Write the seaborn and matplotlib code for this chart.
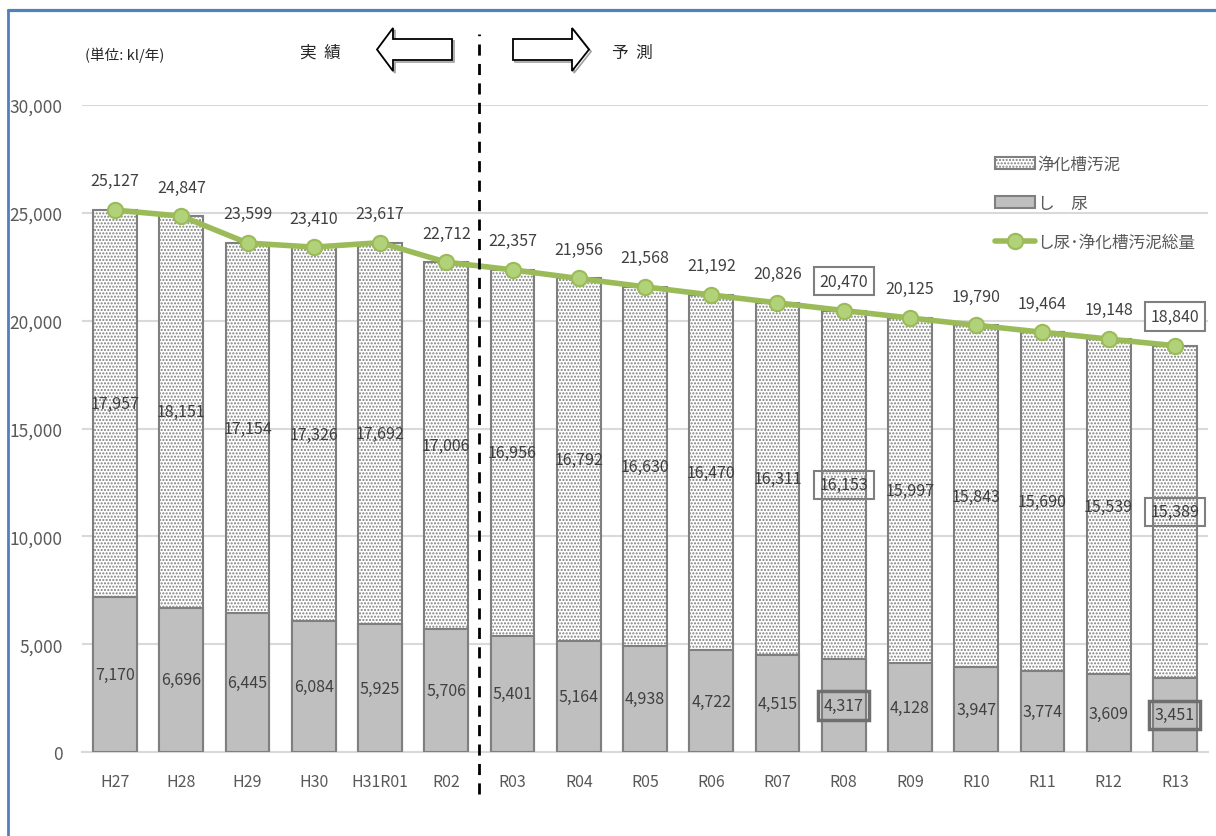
import numpy as np
import pandas as pd
import matplotlib
matplotlib.use("Agg")
import matplotlib.pyplot as plt
import seaborn as sns
from matplotlib.patches import Patch, Polygon
from matplotlib.lines import Line2D
from matplotlib.ticker import FuncFormatter

# --- data -----------------------------------------------------------------
years = ["H27", "H28", "H29", "H30", "H31R01", "R02", "R03", "R04", "R05",
         "R06", "R07", "R08", "R09", "R10", "R11", "R12", "R13"]
shinyo = [7170, 6696, 6445, 6084, 5925, 5706, 5401, 5164, 4938,
          4722, 4515, 4317, 4128, 3947, 3774, 3609, 3451]
jokaso = [17957, 18151, 17154, 17326, 17692, 17006, 16956, 16792, 16630,
          16470, 16311, 16153, 15997, 15843, 15690, 15539, 15389]
total = [25127, 24847, 23599, 23410, 23617, 22712, 22357, 21956, 21568,
         21192, 20826, 20470, 20125, 19790, 19464, 19148, 18840]
boxed_years = ["R08", "R13"]

df = pd.DataFrame({"year": years, "shinyo": shinyo, "jokaso": jokaso, "total": total})
df["stack_top"] = df["shinyo"] + df["jokaso"]
df["pos"] = np.arange(len(df))

# --- style ----------------------------------------------------------------
sns.set_theme(style="white")
plt.rcParams["font.family"] = ["Noto Sans CJK JP", "DejaVu Sans"]
plt.rcParams["hatch.linewidth"] = 1.0

W, H = 1216, 837
fig = plt.figure(figsize=(W / 100, H / 100), dpi=100)
ax = fig.add_axes([82 / W, 1 - 753 / H, (1208 - 82) / W, (753 - 106) / H])

EDGE = "#7F7F7F"
GRAY = "#BFBFBF"
GREEN = "#9BBB59"
TXT = "#404040"
LABEL_SIZE = 11.5

# full stack (dotted sludge part shows above the night-soil bars)
sns.barplot(data=df, x="year", y="stack_top", order=years, color="white",
            saturation=1, width=0.66, edgecolor=EDGE, linewidth=1.5,
            hatch=".....", ax=ax, zorder=2)
sns.barplot(data=df, x="year", y="shinyo", order=years, color=GRAY,
            saturation=1, width=0.66, edgecolor=EDGE, linewidth=1.5,
            ax=ax, zorder=3)

# total line
sns.lineplot(data=df, x="pos", y="total", color=GREEN, linewidth=4,
             marker="o", markersize=11, markerfacecolor="#B2D27A",
             markeredgecolor=GREEN, markeredgewidth=1.5, ax=ax, zorder=5)

ax.set_xlim(-0.5, len(years) - 0.5)
ax.set_ylim(0, 30000)
ax.set_yticks(np.arange(0, 30001, 5000))
ax.yaxis.set_major_formatter(FuncFormatter(lambda v, p: f"{int(v):,}"))
ax.set_xticks(np.arange(len(years)))
ax.set_xticklabels(years)
ax.set_xlabel("")
ax.set_ylabel("")
ax.grid(axis="y", color="#D9D9D9", linewidth=1.5, zorder=0)
ax.set_axisbelow(True)
for s in ["left", "right", "top"]:
    ax.spines[s].set_visible(False)
ax.spines["bottom"].set_color("#D9D9D9")
ax.spines["bottom"].set_linewidth(1.5)
ax.tick_params(axis="y", labelsize=12.5, labelcolor="#595959", length=0, pad=14)
ax.tick_params(axis="x", labelsize=11.5, labelcolor="#595959", length=0, pad=15)

# --- data labels ------------------------------------------------------------
for i, row in df.iterrows():
    boxed = row["year"] in boxed_years
    # total above the marker
    ax.annotate(f"{row['total']:,}", (row["pos"], row["total"]), xytext=(0, 21),
                textcoords="offset points", ha="center", va="center",
                fontsize=LABEL_SIZE, color=TXT, zorder=7,
                bbox=dict(boxstyle="square,pad=0.35", fc="white", ec=EDGE, lw=1.5)
                if boxed else None)
    # septic-tank sludge in the middle of its segment
    ax.text(row["pos"], row["shinyo"] + row["jokaso"] / 2, f"{row['jokaso']:,}",
            ha="center", va="center", fontsize=LABEL_SIZE, color=TXT, zorder=7,
            bbox=dict(boxstyle="square,pad=0.35", fc="none", ec=EDGE, lw=1.5)
            if boxed else None)
    # night soil in the middle of its segment
    ax.text(row["pos"], row["shinyo"] / 2, f"{row['shinyo']:,}",
            ha="center", va="center", fontsize=LABEL_SIZE, color=TXT, zorder=7,
            bbox=dict(boxstyle="square,pad=0.35", fc="none", ec="#6F6F6F", lw=2.5)
            if boxed else None)

# boundary between actual and forecast years
ax.plot([5.5, 5.5], [-1950, 33300], color="black", linestyle=(0, (4, 3)),
        linewidth=2, clip_on=False, zorder=6)

# --- legend -----------------------------------------------------------------
handles = [
    Patch(facecolor="white", edgecolor=EDGE, hatch=".....", linewidth=1.5),
    Patch(facecolor=GRAY, edgecolor=EDGE, linewidth=1.5),
    Line2D([0], [0], color=GREEN, linewidth=4, marker="o", markersize=11,
           markerfacecolor="#B2D27A", markeredgecolor=GREEN, markeredgewidth=1.5),
]
labels = ["浄化槽汚泥", "し　尿", "し尿･浄化槽汚泥総量"]
leg = fig.legend(handles, labels, loc="upper left",
                 bbox_to_anchor=(980 / W, 1 - 142 / H), frameon=False,
                 fontsize=12, labelspacing=1.3, handlelength=2.4,
                 handleheight=0.7, handletextpad=0.15, labelcolor="#595959")

# --- header texts and arrows --------------------------------------------------
def fx(px):
    return px / W


def fy(py):
    return 1 - py / H


fig.text(fx(85), fy(55), "(単位: kl/年)", fontsize=10.5, color="#262626",
         ha="left", va="center")
fig.text(fx(320), fy(53), "実  績", fontsize=12, color="#262626",
         ha="center", va="center")
fig.text(fx(632), fy(53), "予  測", fontsize=12, color="#262626",
         ha="center", va="center")

left_arrow = [(377, 50.5), (393, 29), (393, 40), (452, 40), (452, 61), (393, 61), (393, 72)]
right_arrow = [(513, 40), (572, 40), (572, 29), (589, 50.5), (572, 72), (572, 61), (513, 61)]
for pts in (left_arrow, right_arrow):
    shadow = Polygon([(fx(x + 2), fy(y + 2)) for x, y in pts], closed=True,
                     transform=fig.transFigure, fc="none", ec="#A0A0A0", lw=1.2)
    arrow = Polygon([(fx(x), fy(y)) for x, y in pts], closed=True,
                    transform=fig.transFigure, fc="white", ec="black", lw=1.3)
    fig.patches.extend([shadow, arrow])

# --- outer frame ------------------------------------------------------------
fig.add_artist(Line2D([fx(8), fx(1216)], [fy(10.5), fy(10.5)], color="#4F81BD",
                      linewidth=2.3, transform=fig.transFigure))
fig.add_artist(Line2D([fx(8), fx(8)], [fy(10.5), fy(837)], color="#4F81BD",
                      linewidth=2.0, transform=fig.transFigure))

fig.savefig("out.png", dpi=100)
